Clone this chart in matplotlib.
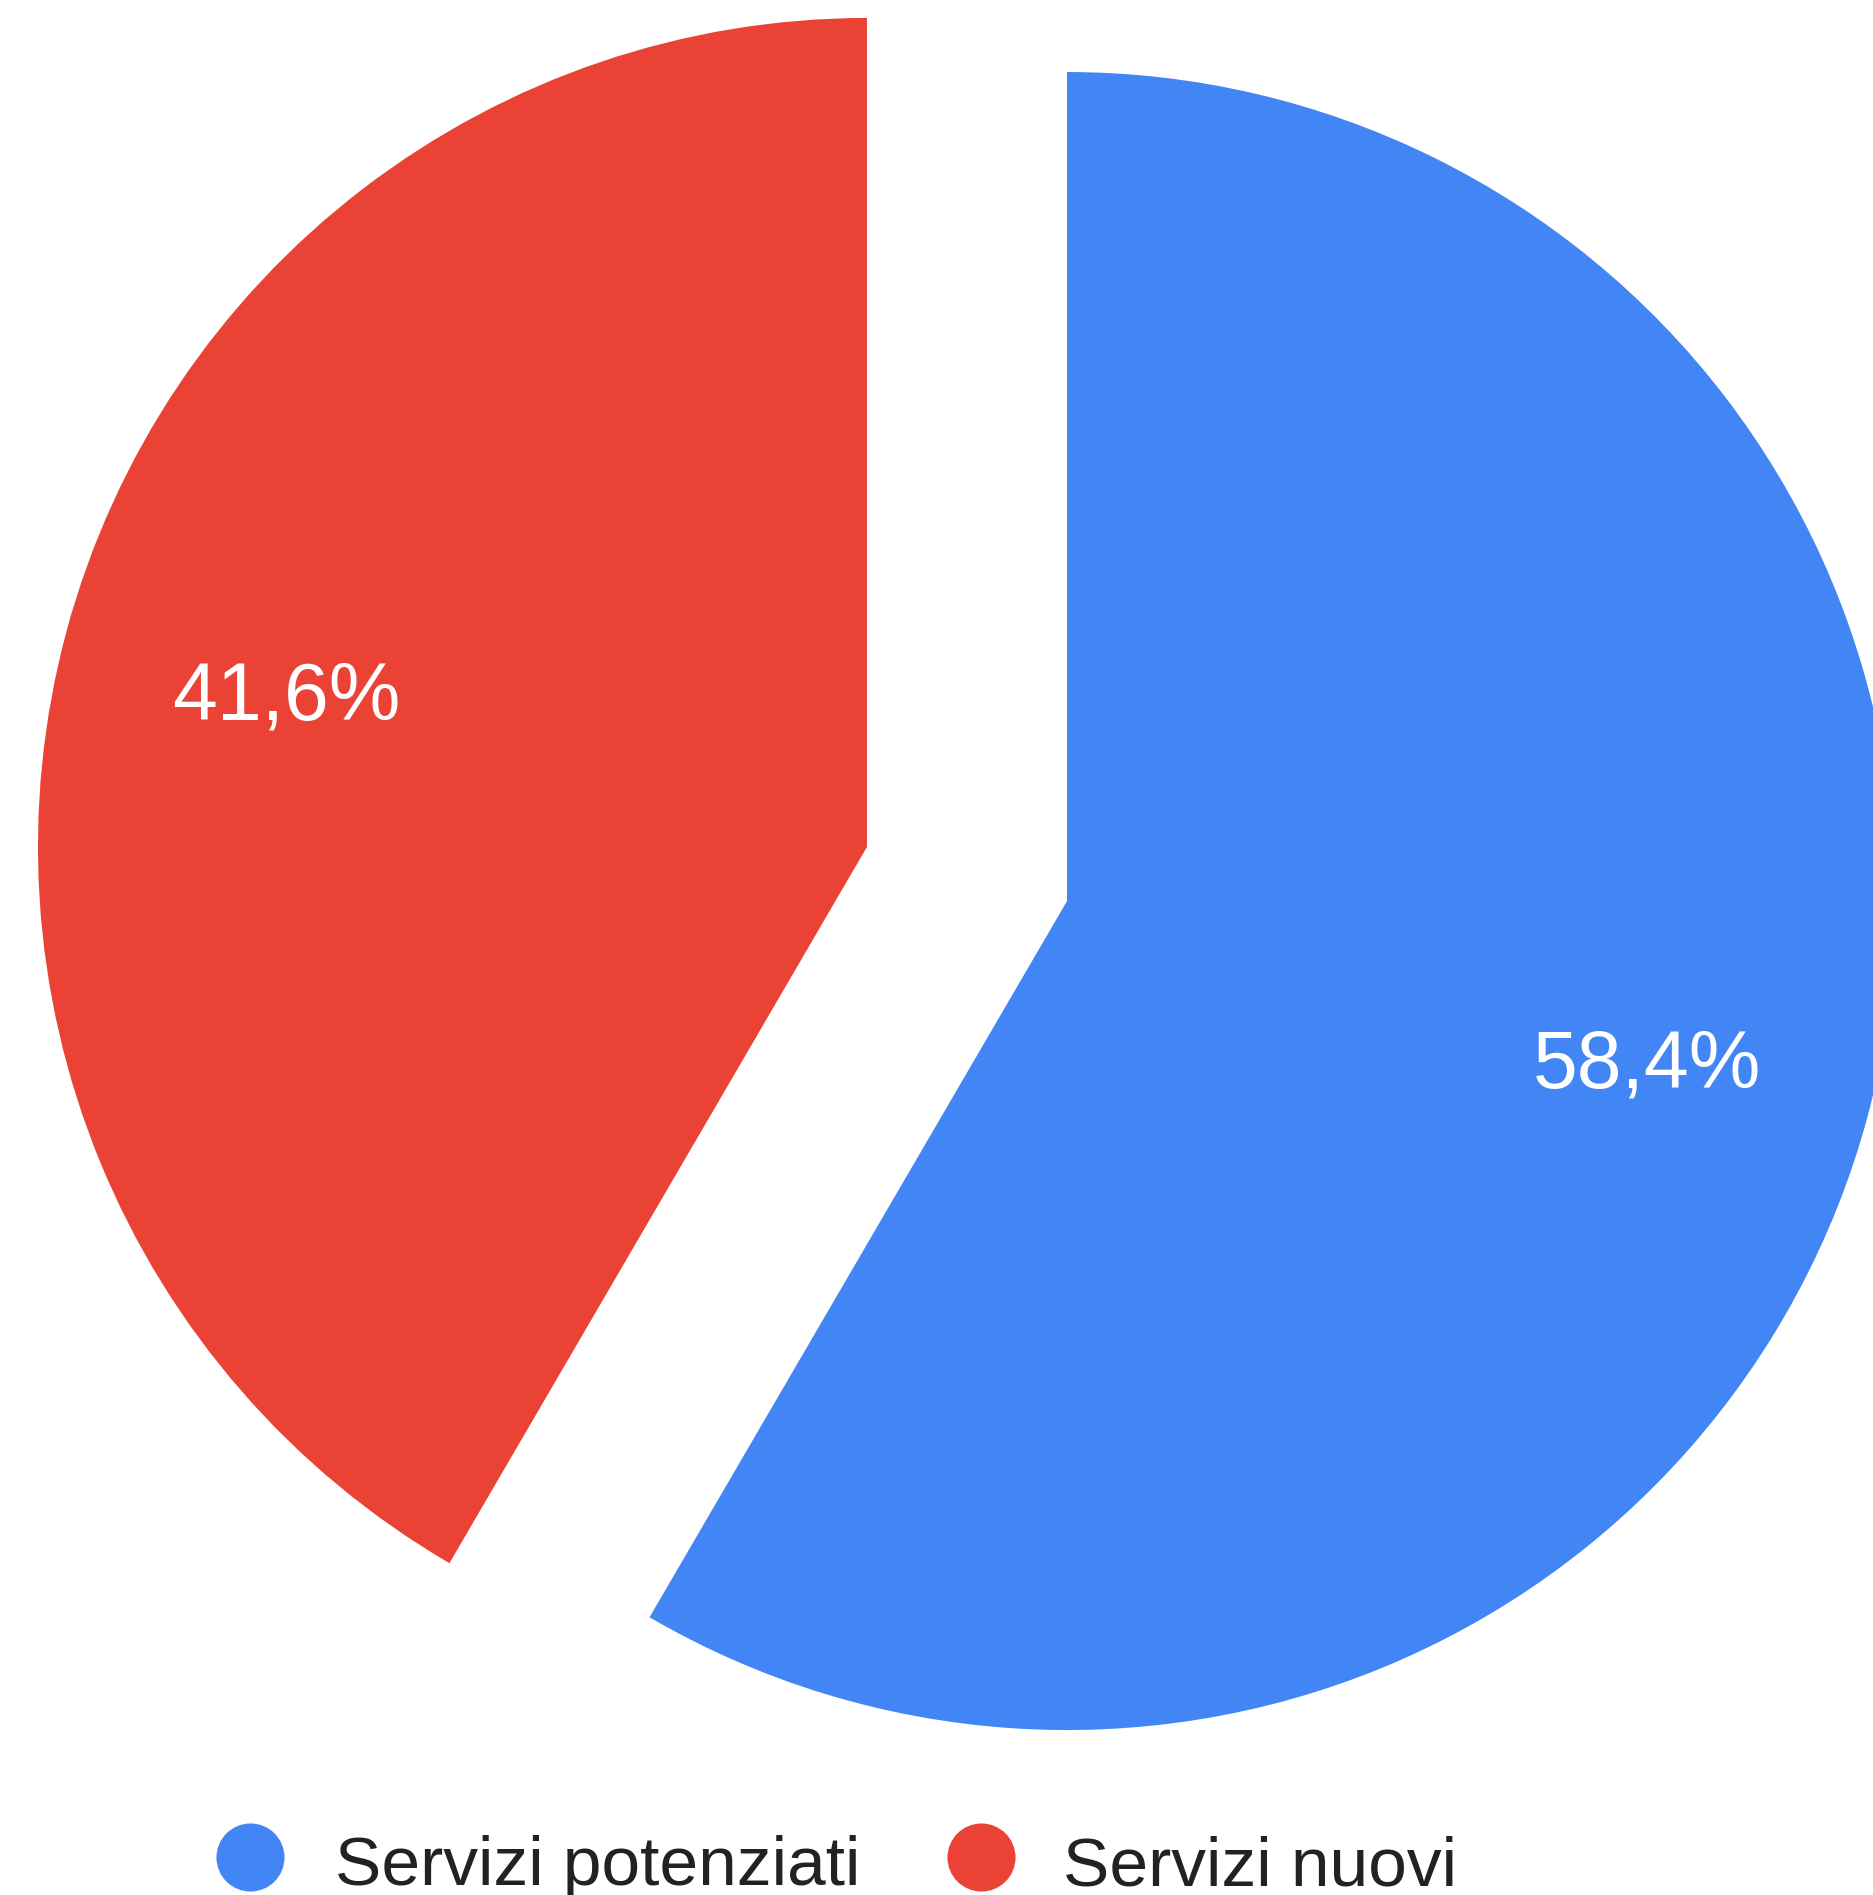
import matplotlib
matplotlib.use("Agg")
import matplotlib.pyplot as plt

plt.rcParams['font.family'] = ['Liberation Sans', 'DejaVu Sans']

# Data
categories = ['Servizi potenziati', 'Servizi nuovi']
shares = [58.4, 41.6]
colors = ['#4285F4', '#EA4335']

W, H = 1874, 1895
fig = plt.figure(figsize=(W / 100, H / 100), dpi=100)
ax = fig.add_axes([0, 0, 1, 1])

# pixel geometry of the (unexploded) pie
cx, cy, R = 967, 874, 829


def fmt(pct):
    return f"{pct:.1f}%".replace('.', ',')


wedges, texts, autotexts = ax.pie(
    shares, colors=colors, startangle=90, counterclock=False,
    explode=[0.125, 0.125], radius=1, autopct=fmt, pctdistance=0.725,
    wedgeprops=dict(linewidth=0),
    textprops=dict(color='white', fontsize=58))
for t in autotexts:
    t.set_va('center_baseline')

ax.set_xlim(-cx / R, (W - cx) / R)
ax.set_ylim((cy - H) / R, cy / R)
ax.set_aspect('auto')
ax.axis('off')

# Legend drawn by hand at the bottom
leg_y = 1 - 1857 / H
for (mx, tx), lab, col in zip([(250, 335), (981, 1063)], categories, colors):
    ax.plot([mx / W], [leg_y], marker='o', markersize=49, color=col,
            markeredgewidth=0, transform=fig.transFigure, clip_on=False)
    fig.text(tx / W, 1 - 1885 / H, lab, fontsize=50, color='#222222',
             va='baseline', ha='left')

fig.savefig('out.png', dpi=100)
